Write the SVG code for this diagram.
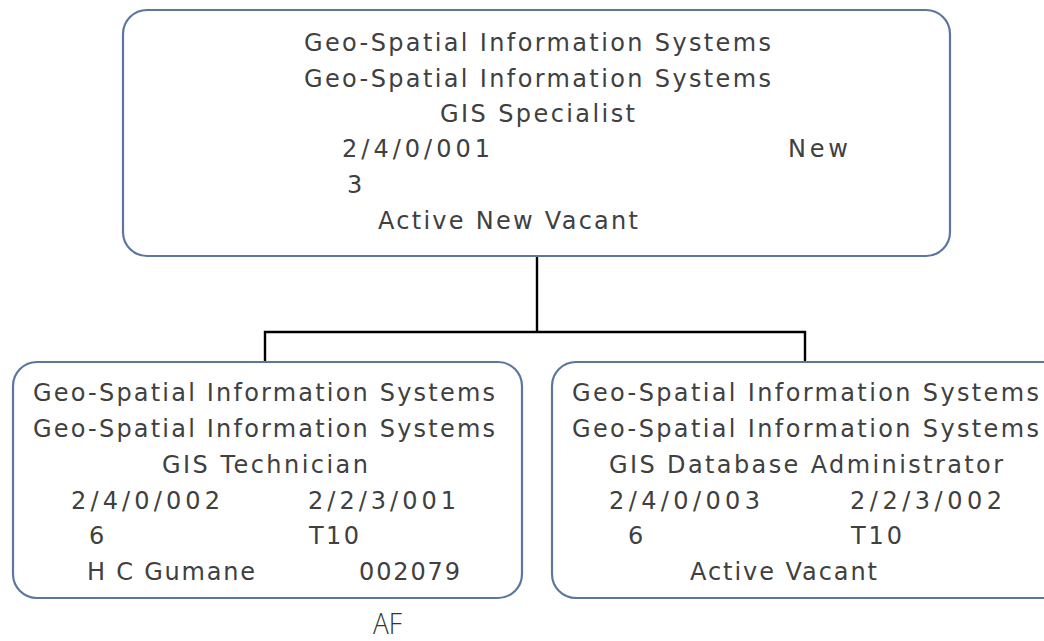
<svg xmlns="http://www.w3.org/2000/svg" width="1044" height="641" viewBox="0 0 1044 641">
<style>
.box{fill:#ffffff;stroke:#5b77a0;stroke-width:2.2}
.t{font-family:"DejaVu Sans","Open Sans",sans-serif;font-size:24px;fill:#404040}
.conn{stroke:#000;stroke-width:2.4;fill:none}
.af{font-family:"Open Sans","Liberation Sans",sans-serif;font-weight:300;font-size:30px;fill:#333333}
</style>
<rect width="1044" height="641" fill="#fff"/>
<g id="connectors">
<path class="conn" d="M537 256 V332"/>
<path class="conn" d="M265 362 V332 H805 V362"/>
</g>
<g id="node-top">
<rect class="box" x="123" y="10" width="827" height="246" rx="24"/>
<text class="t" x="304" y="51" textLength="467" lengthAdjust="spacing">Geo-Spatial Information Systems</text>
<text class="t" x="304" y="87" textLength="467" lengthAdjust="spacing">Geo-Spatial Information Systems</text>
<text class="t" x="440" y="122" textLength="195" lengthAdjust="spacing">GIS Specialist</text>
<text class="t" x="342" y="157" textLength="148" lengthAdjust="spacing">2/4/0/001</text>
<text class="t" x="788" y="157" textLength="60" lengthAdjust="spacing">New</text>
<text class="t" x="347" y="193">3</text>
<text class="t" x="378" y="229" textLength="260" lengthAdjust="spacing">Active New Vacant</text>
</g>
<g id="node-left">
<rect class="box" x="13" y="362" width="509" height="236" rx="24"/>
<text class="t" x="33" y="401" textLength="462" lengthAdjust="spacing">Geo-Spatial Information Systems</text>
<text class="t" x="33" y="437" textLength="462" lengthAdjust="spacing">Geo-Spatial Information Systems</text>
<text class="t" x="162" y="473" textLength="206" lengthAdjust="spacing">GIS Technician</text>
<text class="t" x="71" y="509" textLength="149" lengthAdjust="spacing">2/4/0/002</text>
<text class="t" x="308" y="509" textLength="148" lengthAdjust="spacing">2/2/3/001</text>
<text class="t" x="89" y="544">6</text>
<text class="t" x="309" y="544" textLength="50" lengthAdjust="spacing">T10</text>
<text class="t" x="87" y="580" textLength="168" lengthAdjust="spacing">H C Gumane</text>
<text class="t" x="359" y="580" textLength="101" lengthAdjust="spacing">002079</text>
</g>
<g id="node-right">
<rect class="box" x="552" y="362" width="520" height="236" rx="24"/>
<text class="t" x="572" y="401" textLength="467" lengthAdjust="spacing">Geo-Spatial Information Systems</text>
<text class="t" x="572" y="437" textLength="467" lengthAdjust="spacing">Geo-Spatial Information Systems</text>
<text class="t" x="609" y="473" textLength="394" lengthAdjust="spacing">GIS Database Administrator</text>
<text class="t" x="609" y="509" textLength="151" lengthAdjust="spacing">2/4/0/003</text>
<text class="t" x="850" y="509" textLength="152" lengthAdjust="spacing">2/2/3/002</text>
<text class="t" x="628" y="544">6</text>
<text class="t" x="851" y="544" textLength="51" lengthAdjust="spacing">T10</text>
<text class="t" x="690" y="580" textLength="187" lengthAdjust="spacing">Active Vacant</text>
</g>
<g id="label-af">
<text class="af" x="373" y="634" textLength="29" lengthAdjust="spacingAndGlyphs">AF</text>
</g>
</svg>
